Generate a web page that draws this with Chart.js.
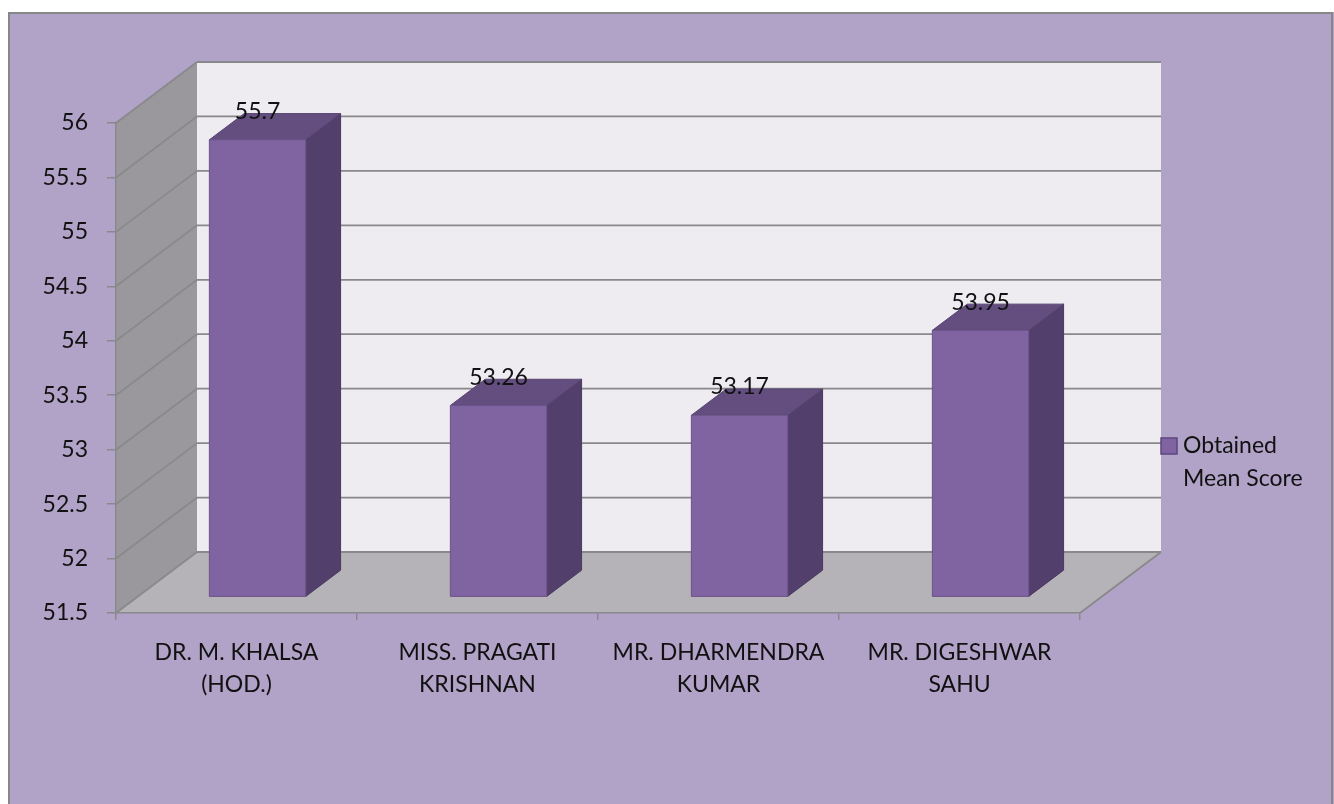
<!DOCTYPE html>
<html>
<head>
<meta charset="utf-8">
<script src="https://cdn.jsdelivr.net/npm/chart.js@4/dist/chart.umd.min.js"></script>
<style>
  body { margin: 0; background: #fff; }
  canvas { display: block; }
</style>
</head>
<body>
<canvas id="chart" width="1334" height="804"></canvas>
<script>
// data
const teachers = [
  ['DR. M. KHALSA', '(HOD.)'],
  ['MISS. PRAGATI', 'KRISHNAN'],
  ['MR. DHARMENDRA', 'KUMAR'],
  ['MR. DIGESHWAR', 'SAHU']
];
const meanScores = [55.7, 53.26, 53.17, 53.95];
const seriesName = ['Obtained', 'Mean Score'];
const yMin = 51.5, yMax = 56, yStep = 0.5;

const FONT = 'Lato, "Open Sans", sans-serif';
const FSIZE = 23;
const WALL_DX = 81, WALL_DY = -61;      // depth of the walls
const BAR_FRONT = 0.26, BAR_BACK = 0.69; // where the bars sit in the depth

function poly(ctx, pts, fill, stroke) {
  ctx.beginPath();
  ctx.moveTo(pts[0][0], pts[0][1]);
  for (let i = 1; i < pts.length; i++) ctx.lineTo(pts[i][0], pts[i][1]);
  ctx.closePath();
  if (fill) { ctx.fillStyle = fill; ctx.fill(); }
  if (stroke) { ctx.strokeStyle = stroke; ctx.stroke(); }
}
function line(ctx, x0, y0, x1, y1) {
  ctx.beginPath(); ctx.moveTo(x0, y0); ctx.lineTo(x1, y1); ctx.stroke();
}

const threeD = {
  id: 'threeD',
  beforeDraw(chart) {
    const { ctx, chartArea: a, scales: { y } } = chart;
    ctx.save();
    // panel
    ctx.fillStyle = '#b1a2c7';
    ctx.fillRect(8, 12, 1326, 800);
    ctx.strokeStyle = '#878787';
    ctx.lineWidth = 2;
    ctx.strokeRect(9, 13, 1323, 800);

    // walls + floor
    ctx.fillStyle = '#eeebf1';
    ctx.fillRect(a.left + WALL_DX, a.top + WALL_DY, a.width, a.height);
    poly(ctx, [[a.left, a.top], [a.left + WALL_DX, a.top + WALL_DY],
      [a.left + WALL_DX, a.bottom + WALL_DY], [a.left, a.bottom]], '#9b989d');
    poly(ctx, [[a.left, a.bottom], [a.right, a.bottom],
      [a.right + WALL_DX, a.bottom + WALL_DY], [a.left + WALL_DX, a.bottom + WALL_DY]], '#b6b3b8');

    // gridlines on left wall and back wall
    ctx.strokeStyle = '#89898b';
    ctx.lineWidth = 1.8;
    y.ticks.forEach(t => {
      const py = y.getPixelForValue(t.value);
      line(ctx, a.left, py, a.left + WALL_DX, py + WALL_DY);
      line(ctx, a.left + WALL_DX, py + WALL_DY, a.right + WALL_DX, py + WALL_DY);
    });
    line(ctx, a.right, a.bottom, a.right + WALL_DX, a.bottom + WALL_DY);
    ctx.restore();
  },
  afterDatasetsDraw(chart) {
    const { ctx } = chart;
    const meta = chart.getDatasetMeta(0);
    ctx.save();
    ctx.lineWidth = 1;
    meta.data.forEach((bar, i) => {
      const { x, y, base, width } = bar.getProps(['x', 'y', 'base', 'width'], true);
      const ox = WALL_DX * BAR_FRONT, oy = WALL_DY * BAR_FRONT;
      const ddx = WALL_DX * (BAR_BACK - BAR_FRONT), ddy = WALL_DY * (BAR_BACK - BAR_FRONT);
      const x0 = x - width / 2 + ox, x1 = x + width / 2 + ox;
      const yt = y + oy, yb = base + oy;
      poly(ctx, [[x1, yt], [x1 + ddx, yt + ddy], [x1 + ddx, yb + ddy], [x1, yb]], '#533f6b', '#4a3960');
      poly(ctx, [[x0, yt], [x0 + ddx, yt + ddy], [x1 + ddx, yt + ddy], [x1, yt]], '#634e7f', '#574470');
      poly(ctx, [[x0, yt], [x1, yt], [x1, yb], [x0, yb]], '#8064a2', '#6b5389');

      ctx.fillStyle = '#111';
      ctx.font = FSIZE + 'px ' + FONT;
      ctx.textAlign = 'center';
      ctx.textBaseline = 'middle';
      ctx.fillText(String(meanScores[i]), x + ox, yt + ddy - 2);
    });
    ctx.restore();
  },
  afterDraw(chart) {
    const { ctx } = chart;
    ctx.save();
    ctx.fillStyle = '#8064a2';
    ctx.strokeStyle = '#5c4680';
    ctx.lineWidth = 1.5;
    ctx.fillRect(1161, 438, 16, 16);
    ctx.strokeRect(1161, 438, 16, 16);
    ctx.fillStyle = '#111';
    ctx.font = FSIZE + 'px ' + FONT;
    ctx.textAlign = 'left';
    ctx.textBaseline = 'middle';
    ctx.fillText(seriesName[0], 1183, 446);
    ctx.fillText(seriesName[1], 1183, 479);
    ctx.restore();
  }
};

new Chart(document.getElementById('chart'), {
  type: 'bar',
  data: {
    labels: teachers,
    datasets: [{
      label: seriesName.join(' '),
      data: meanScores,
      base: yMin,
      backgroundColor: 'rgba(0,0,0,0)',
      borderWidth: 0,
      categoryPercentage: 1,
      barPercentage: 0.4
    }]
  },
  options: {
    responsive: false,
    animation: false,
    layout: { padding: { left: 0, right: 254, top: 123, bottom: 0 } },
    plugins: { legend: { display: false }, tooltip: { enabled: false } },
    scales: {
      x: {
        grid: { offset: true, drawOnChartArea: false, drawTicks: true, tickLength: 7, color: '#89898b', lineWidth: 1.5 },
        border: { display: true, color: '#89898b', width: 1.5 },
        ticks: { color: '#111', padding: 16, font: { family: FONT, size: FSIZE, lineHeight: 1.42 }, maxRotation: 0, autoSkip: false },
        afterFit(s) { s.height = 191; }
      },
      y: {
        min: yMin, max: yMax,
        grid: { drawOnChartArea: false, drawTicks: true, tickLength: 9, color: '#89898b', lineWidth: 1.5 },
        border: { display: true, color: '#89898b', width: 1.5 },
        ticks: { stepSize: yStep, color: '#111', padding: 19, font: { family: FONT, size: FSIZE }, callback: v => String(v) },
        afterFit(s) { s.width = 116; }
      }
    }
  },
  plugins: [threeD]
});
</script>
</body>
</html>
